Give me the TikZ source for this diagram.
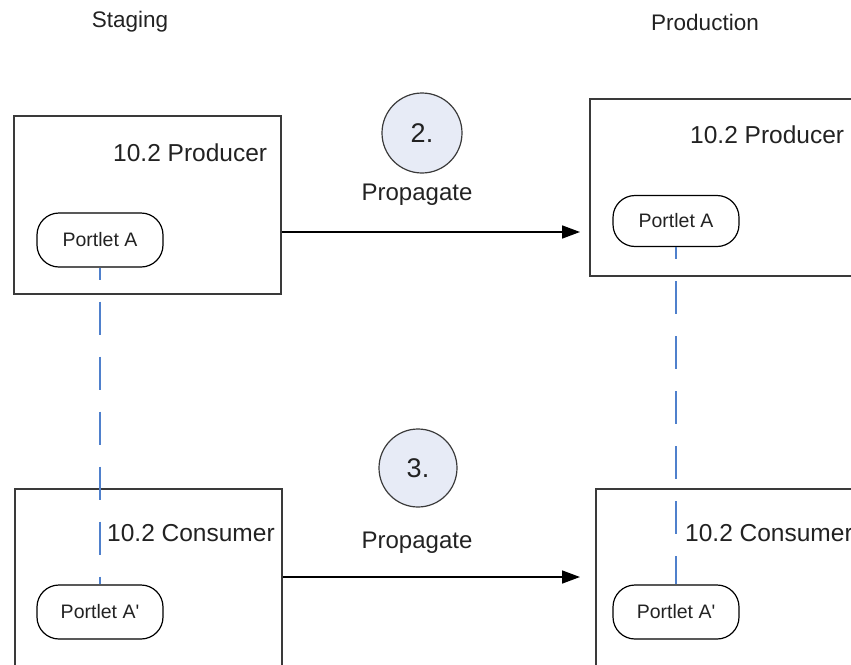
\documentclass[tikz,border=0pt]{standalone}
\usepackage{fontspec}
\setmainfont{Liberation Sans}
\usetikzlibrary{arrows.meta,positioning}
\definecolor{txt}{HTML}{222222}
\definecolor{frame}{HTML}{3a3a3a}
\definecolor{link}{HTML}{4f80cc}
\definecolor{stepfill}{HTML}{e7ebf6}
\newcommand{\fs}[1]{\fontsize{#1}{#1}\selectfont}

\begin{document}
\begin{tikzpicture}[x=1pt, y=-1pt,
    every node/.style={text=txt, inner sep=0pt},
    server/.style={draw=frame, line width=1.8pt, anchor=north west},
    portlet/.style={draw=black, line width=1.2pt, rounded corners=22pt,
      minimum width=126pt, minimum height=54pt, font=\fs{19.5}},
    stepno/.style={draw=frame, line width=1.2pt, circle, fill=stepfill,
      minimum size=80pt, font=\fs{27}},
    flow/.style={-{Triangle[length=18pt, width=13pt]}, line width=1.6pt, black},
    wsrp/.style={link, line width=1.3pt, dash pattern=on 33pt off 22pt, dash phase=21pt}]
\useasboundingbox (0,0) rectangle (851,664);
\clip (0,0) rectangle (851,664);
% Column titles
\node[font=\fs{22.5}] (stgtitle) at (130,22) {Staging};
\node[font=\fs{22.5}] (prdtitle) at (705,22) {Production};
% Producer row
\node[server, minimum width=267pt, minimum height=178pt] (stgprod) at (13,115) {};
\node[server, minimum width=281pt, minimum height=177pt] (prdprod) at (589,98) {};
\node[font=\fs{24.5}, anchor=west] (stgprodlbl) at (113,153) {10.2 Producer};
\node[font=\fs{24.5}, anchor=west] (prdprodlbl) at (690,135) {10.2 Producer};
\node[portlet] (stgA) at (100,240) {Portlet A};
\node[portlet, minimum height=51pt] (prdA) at (676,221) {Portlet A};
\node[stepno] (step2) at (422,133) {2.};
\node[font=\fs{24}] (prop2) at (417,195) {Propagate};
% Consumer row
\node[server, minimum width=267pt, minimum height=200pt] (stgcons) at (14,488) {};
\node[server, minimum width=281pt, minimum height=200pt] (prdcons) at (595,488) {};
\node[portlet] (stgAp) at (100,612) {Portlet A\textquotesingle};
\node[portlet] (prdAp) at (676,612) {Portlet A\textquotesingle};
\node[stepno, minimum size=78pt] (step3) at (418,468) {3.};
\node[font=\fs{24}] (prop3) at (417,543) {Propagate};
\node[font=\fs{24.5}, anchor=west] (stgconslbl) at (107,533) {10.2 Consumer};
\node[font=\fs{24.5}, anchor=west] (prdconslbl) at (685,533) {10.2 Consumer};
% Arrows and links
\coordinate (tip2) at (580,232);
\coordinate (tip3) at (580,577);
\draw[flow] (stgprod.east |- tip2) -- (tip2);
\draw[flow] (stgcons.east |- tip3) -- (tip3);
\draw[wsrp] (stgA.south) -- (stgAp.north);
\draw[wsrp] (prdA.south) -- (prdAp.north);
\end{tikzpicture}
\end{document}
